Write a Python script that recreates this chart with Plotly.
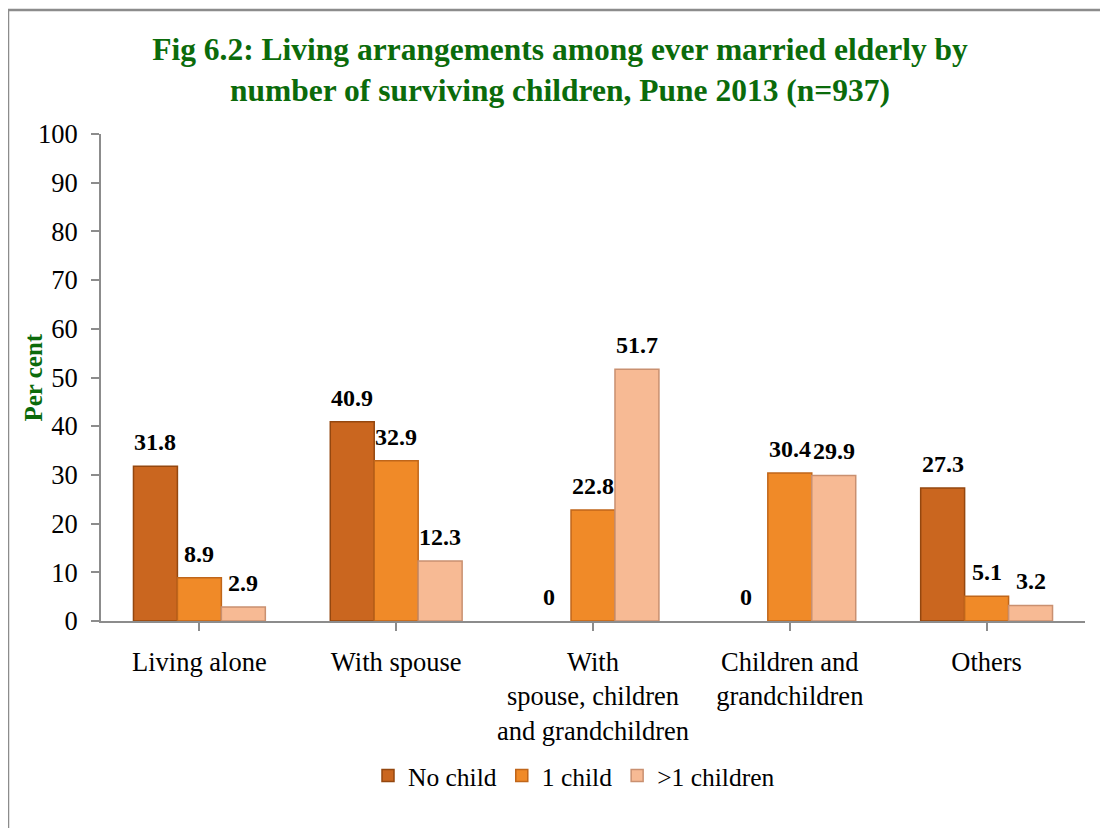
import plotly.graph_objects as go

categories = ["Living alone", "With spouse", "With<br>spouse, children<br>and grandchildren",
              "Children and<br>grandchildren", "Others"]
series_names = ["No child", "1 child", ">1 children"]
no_child = [31.8, 40.9, 0, 0, 27.3]
one_child = [8.9, 32.9, 22.8, 30.4, 5.1]
more_children = [2.9, 12.3, 51.7, 29.9, 3.2]
y_ticks = [0, 10, 20, 30, 40, 50, 60, 70, 80, 90, 100]

colors = ["#CA661F", "#F08A28", "#F7BA94"]
line_colors = ["#94470F", "#C0661A", "#C99070"]

W, H = 1108, 828
OFF = 8  # page body margin
L, T = 101 - OFF, 134 - OFF
R = W - (1085 - OFF)
B = H - (621 - OFF)
pw = W - L - R
ph = H - T - B
bargap = 0.33
FONT = "Liberation Serif"
GREEN = "#0B6B0B"

fig = go.Figure()
all_series = [no_child, one_child, more_children]
for k, (name, vals) in enumerate(zip(series_names, all_series)):
    fig.add_trace(go.Bar(
        name=name, x=list(range(len(categories))), y=vals,
        marker=dict(color=colors[k],
                    line=dict(color=line_colors[k],
                              width=[1.5 if v > 0 else 0 for v in vals])),
    ))

# data labels
w = (1 - bargap) / 3
for k, vals in enumerate(all_series):
    for i, v in enumerate(vals):
        fig.add_annotation(
            x=i + (k - 1) * w, y=v, xref="x", yref="y",
            text=f"<b>{v:g}</b>", showarrow=False, yanchor="bottom", yshift=9,
            font=dict(family=FONT, size=24, color="black"),
        )

# y axis title
fig.add_annotation(
    text="<b>Per cent</b>", textangle=-90, xref="paper", yref="paper",
    x=(33 - OFF - L) / pw, y=0.5, xanchor="center", yanchor="middle", showarrow=False,
    font=dict(family=FONT, size=25, color=GREEN),
)

# outer border (top + left)
bx = (8 - OFF - L) / pw
by = ((H - B) - (10 - OFF)) / ph
fig.add_shape(type="path", xref="paper", yref="paper",
              path=f"M {bx},{-(B + 20) / ph} L {bx},{by} L {(W + 20 - L) / pw},{by}",
              line=dict(color="#8C8C8C", width=2.5))

fig.update_layout(
    width=W, height=H,
    margin=dict(l=L, r=R, t=T, b=B),
    paper_bgcolor="white", plot_bgcolor="white",
    barmode="group", bargap=bargap, bargroupgap=0,
    title=dict(
        text="<b>Fig 6.2: Living arrangements among ever married elderly by<br>number of surviving children, Pune 2013 (n=937)</b>",
        x=(560 - OFF) / W, xanchor="center", xref="container",
        y=1 - (60 - OFF) / H, yanchor="middle", yref="container",
        font=dict(family=FONT, size=31.5, color=GREEN),
    ),
    font=dict(family=FONT, size=26, color="black"),
    showlegend=True,
    legend=dict(
        orientation="h", x=(574 - OFF - L) / pw, xanchor="center",
        y=((H - B) - (776 - OFF)) / ph, yanchor="middle",
        font=dict(family=FONT, size=25.5, color="black"),
        itemwidth=30,
    ),
    xaxis=dict(
        tickmode="array", tickvals=list(range(len(categories))), ticktext=categories,
        range=[-0.5, len(categories) - 0.5],
        showline=True, linecolor="#8C8C8C", linewidth=2,
        ticks="outside", tickson="boundaries", ticklen=8, tickcolor="#8C8C8C", tickwidth=2,
        showgrid=False, zeroline=False,
        tickfont=dict(family=FONT, size=26.5, color="black"),
        ticklabelstandoff=8,
    ),
    yaxis=dict(
        range=[0, 100], tickvals=y_ticks,
        showline=True, linecolor="#8C8C8C", linewidth=2,
        ticks="outside", ticklen=8, tickcolor="#8C8C8C", tickwidth=2,
        showgrid=False, zeroline=False,
        tickfont=dict(family=FONT, size=26.5, color="black"),
        ticklabelstandoff=8,
    ),
)

fig.write_html("out.html")
